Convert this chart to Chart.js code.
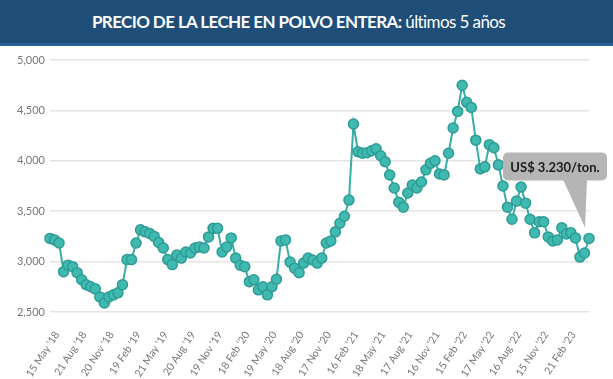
<!DOCTYPE html>
<html lang="es">
<head>
    <meta charset="UTF-8">
    <title>Precio de la leche en polvo entera</title>
    <script src="https://cdn.jsdelivr.net/npm/chart.js@4.4.0/dist/chart.umd.min.js"></script>
    <style>
        body, html {
            margin: 0;
            padding: 0;
            width: 613px;
            height: 379px;
            overflow: hidden;
            background-color: #fff;
        }
        .title-bar {
            height: 43px;
            background-color: #1f4e79;
            border-bottom: 3px solid #2b6096;
            color: #fff;
            font-family: Lato, sans-serif;
            font-size: 17px;
            letter-spacing: -0.6px;
            line-height: 43px;
            text-align: center;
            padding-right: 16px;
        }
        .chart-box {
            position: relative;
            width: 613px;
            height: 333px;
        }
    </style>
</head>
<body>
<div class="title-bar"><b>PRECIO DE LA LECHE EN POLVO ENTERA:</b> últimos 5 años</div>
<div class="chart-box">
    <canvas id="milkChart"></canvas>
</div>

<script>
    // tick labels shown every 6th auction (quarterly)
    const tickLabels = ["15 May '18", "21 Aug '18", "20 Nov '18", "19 Feb '19", "21 May '19",
        "20 Aug '19", "19 Nov '19", "18 Feb '20", "19 May '20", "18 Aug '20",
        "17 Nov '20", "16 Feb '21", "18 May '21", "17 Aug '21", "16 Nov '21",
        "15 Feb '22", "17 May '22", "16 Aug '22", "15 Nov '22", "21 Feb '23"];

    // price US$/ton, one per auction
    const prices = [
        3230, 3215, 3185, 2900, 2965, 2950, 2890, 2820, 2770, 2750, 2730, 2650, 2590, 2650, 2670, 2690, 2770, 3020, 3020, 3185,
        3315, 3295, 3280, 3250, 3190, 3135, 3020, 2970, 3065, 3035, 3095, 3085, 3135, 3145, 3135, 3245, 3330, 3330, 3095, 3145,
        3235, 3035, 2965, 2950, 2800, 2820, 2720, 2750, 2670, 2750, 2825, 3205, 3215, 2995, 2935, 2890, 2985, 3035, 3015, 2985,
        3035, 3185, 3205, 3295, 3380, 3450, 3610, 4365, 4090, 4075, 4080, 4100, 4120, 4050, 3990, 3860, 3730, 3590, 3540, 3680,
        3760, 3730, 3790, 3910, 3975, 4000, 3870, 3860, 4075, 4325, 4490, 4750, 4580, 4530, 4205, 3920, 3940, 4160, 4130, 3960,
        3750, 3540, 3420, 3600, 3740, 3580, 3420, 3285, 3395, 3395, 3245, 3205, 3215, 3335, 3275, 3285, 3235, 3045, 3085, 3230
    ];

    const yMin = 2500, yMax = 5000, yStep = 500;

    const labels = prices.map((_, i) => (i % 6 === 0 && tickLabels[i / 6]) ? tickLabels[i / 6] : '');
    const lastPrice = prices[prices.length - 1];
    const calloutText = 'US$ ' + lastPrice.toLocaleString('de-DE') + '/ton.';

    // gray speech bubble pointing at the last point
    const calloutPlugin = {
        id: 'callout',
        afterDatasetsDraw(chart) {
            const meta = chart.getDatasetMeta(0);
            const pt = meta.data[meta.data.length - 1];
            const ctx = chart.ctx;
            const x = pt.x, y = pt.y;
            const left = x - 86, right = x + 18, top = y - 86, bottom = y - 58;
            ctx.save();
            ctx.fillStyle = '#b5b5b5';
            ctx.beginPath();
            ctx.roundRect(left, top, right - left, bottom - top, 5);
            ctx.fill();
            ctx.beginPath();
            ctx.moveTo(x - 26, bottom - 1);
            ctx.lineTo(x - 2, bottom - 1);
            ctx.lineTo(x - 4, y - 11);
            ctx.closePath();
            ctx.fill();
            ctx.fillStyle = '#1b1b1b';
            ctx.font = 'bold 13px Lato';
            ctx.textAlign = 'center';
            ctx.textBaseline = 'middle';
            ctx.fillText(calloutText, (left + right) / 2, (top + bottom) / 2 + 1);
            ctx.restore();
        }
    };

    const ctx = document.getElementById('milkChart').getContext('2d');
    new Chart(ctx, {
        type: 'line',
        data: {
            labels: labels,
            datasets: [{
                data: prices,
                borderColor: '#38aca5',
                borderWidth: 2,
                backgroundColor: '#40b9b1',
                pointBackgroundColor: '#40b9b1',
                pointBorderColor: '#2c9c95',
                pointBorderWidth: 1.5,
                pointRadius: 5,
                tension: 0,
                fill: false
            }]
        },
        options: {
            responsive: true,
            maintainAspectRatio: false,
            animation: false,
            layout: {
                padding: { top: 14, right: 24, left: 0, bottom: 0 }
            },
            plugins: {
                legend: { display: false },
                tooltip: { enabled: false }
            },
            scales: {
                x: {
                    afterFit: function (scale) { scale.height = 67; },
                    grid: { display: false },
                    border: { display: false },
                    ticks: {
                        autoSkip: false,
                        minRotation: 57,
                        maxRotation: 57,
                        padding: 9,
                        labelOffset: 7,
                        color: '#777',
                        font: { family: 'Lato', size: 10.5 }
                    }
                },
                y: {
                    min: yMin,
                    max: yMax,
                    afterFit: function (scale) { scale.width = 50; },
                    grid: { color: '#e4e4e4', lineWidth: 1.5, drawTicks: false },
                    border: { display: false },
                    ticks: {
                        stepSize: yStep,
                        padding: 5,
                        color: '#777',
                        font: { family: 'Lato', size: 11 },
                        callback: function (v) { return v.toLocaleString('en-US'); }
                    }
                }
            }
        },
        plugins: [calloutPlugin]
    });
</script>
</body>
</html>
